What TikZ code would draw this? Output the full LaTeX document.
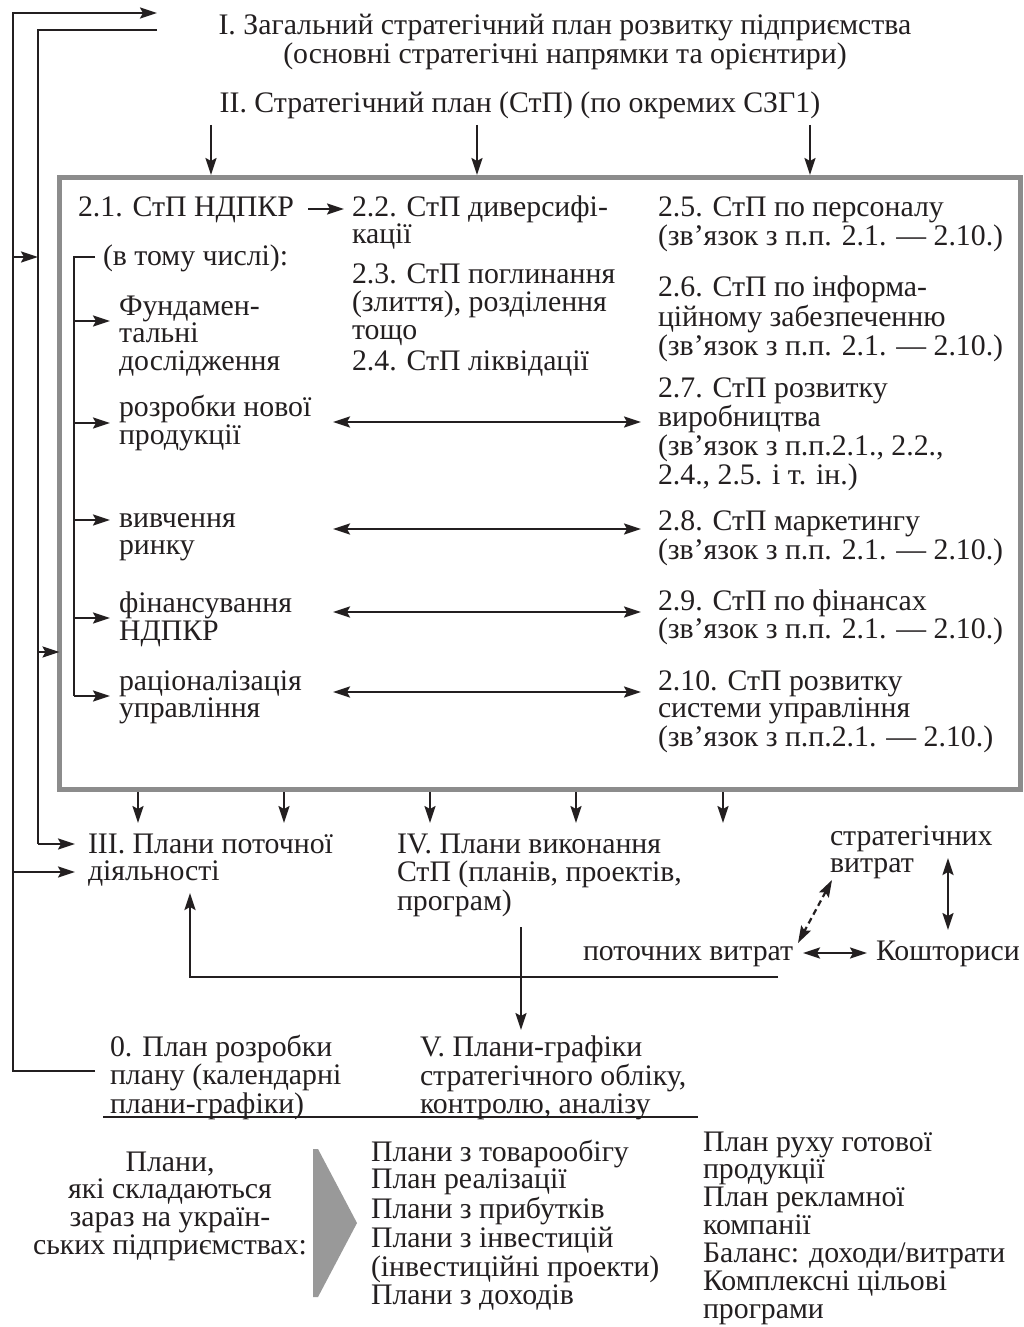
\documentclass[tikz,border=0pt]{standalone}
\usepackage{fontspec}
\setmainfont{Liberation Serif}
\usetikzlibrary{arrows.meta,calc}
\definecolor{ink}{HTML}{231F20}
\definecolor{framegray}{HTML}{8C8C8C}
\definecolor{wedgegray}{HTML}{999999}
\newcommand{\mlines}[1]{\begin{tabular}[t]{@{}l@{}}#1\end{tabular}}
\newcommand{\mcent}[1]{\begin{tabular}[t]{@{}c@{}}#1\end{tabular}}
\begin{document}
\begin{tikzpicture}[x=1pt,y=-1pt,
  >={Stealth[length=17pt,width=11pt,inset=3pt]},
  txt/.style={font=\fontsize{29.8}{27.5}\selectfont, inner sep=0pt, outer sep=0pt, anchor=base west, text=ink},
  ln/.style={draw=ink, line width=2.2pt},
  arr/.style={ln, ->},
  darr/.style={ln, <->},
  frame/.style={draw=framegray, line width=5pt, inner sep=0pt, outer sep=0pt, anchor=north west}
]
\fill[white] (0,0) rectangle (1024,1327);
\useasboundingbox (0,0) rectangle (1024,1327);

% titles
\node[txt, anchor=base] (t1) at (565,35) {\mcent{I. Загальний стратегічний план розвитку підприємства\\(основні стратегічні напрямки та орієнтири)}};
\node[txt, anchor=base] (t2) at (520,113) {II. Стратегічний план (СтП) (по окремих СЗГ1)};

% frame
\node[frame, minimum width=961pt, minimum height=612pt] (box) at (59.5,177.5) {};

% inside frame, left and middle
\node[txt] (n21) at (78,216.7) {2.1. СтП НДПКР};
\node[txt] (n22) at (352,216) {\mlines{2.2. СтП диверсифі-\\кації}};
\node[txt] (n23) at (352,283) {\mlines{2.3. СтП поглинання\\(злиття), розділення\\тощо}};
\node[txt] (n24) at (352,370) {2.4. СтП ліквідації};
\node[txt] (incl) at (103,265) {(в тому числі):};
\node[txt] (f1) at (119,315) {\mlines{Фундамен-\\тальні\\дослідження}};
\node[txt] (f2) at (119,416.7) {\mlines{розробки нової\\продукції}};
\node[txt] (f3) at (119,527) {\mlines{вивчення\\ринку}};
\node[txt] (f4) at (119,612.7) {\mlines{фінансування\\НДПКР}};
\node[txt] (f5) at (119,690) {\mlines{раціоналізація\\управління}};

% right column
\node[txt] (r25) at (658,216.7) {\mlines{2.5. СтП по персоналу\\(зв’язок з п.п. 2.1. — 2.10.)}};
\node[txt] (r26) at (658,296.7) {\mlines{2.6. СтП по інформа-\\ційному забезпеченню\\(зв’язок з п.п. 2.1. — 2.10.)}};
\node[txt] (r27) at (658,397) {\mlines{2.7. СтП розвитку\\виробництва\\(зв’язок з п.п.2.1., 2.2.,\\2.4., 2.5. і т. ін.)}};
\node[txt] (r28) at (658,530.7) {\mlines{2.8. СтП маркетингу\\(зв’язок з п.п. 2.1. — 2.10.)}};
\node[txt] (r29) at (658,610) {\mlines{2.9. СтП по фінансах\\(зв’язок з п.п. 2.1. — 2.10.)}};
\node[txt] (r210) at (658,690) {\mlines{2.10. СтП розвитку\\системи управління\\(зв’язок з п.п.2.1. — 2.10.)}};

% below frame
\node[txt] (p3) at (88,853) {\mlines{III. Плани поточної\\діяльності}};
\node[txt] (p4) at (397,853) {\mlines{IV. Плани виконання\\СтП (планів, проектів,\\програм)}};
\node[txt] (sv) at (830,845) {\mlines{стратегічних\\витрат}};
\node[txt] (pv) at (583,960) {поточних витрат};
\node[txt] (ko) at (876,960) {Кошториси};
\node[txt] (p0) at (110,1056) {\mlines{0. План розробки\\плану (календарні\\плани-графіки)}};
\node[txt] (p5) at (420,1056) {\mlines{V. Плани-графіки\\стратегічного обліку,\\контролю, аналізу}};

% bottom section
\node[txt, anchor=base] (pl) at (170,1171) {\mcent{Плани,\\які складаються\\зараз на україн-\\ських підприємствах:}};
\fill[wedgegray] (313,1149) -- (318,1149) -- (357,1223) -- (318,1297) -- (313,1297) -- cycle;
\node[txt] (l1) at (371,1161) {\mlines{Плани з товарообігу\\План реалізації\\Плани з прибутків\\Плани з інвестицій\\(інвестиційні проекти)\\Плани з доходів}};
\node[txt] (l2) at (703,1151) {\mlines{План руху готової\\продукції\\План рекламної\\компанії\\Баланс: доходи/витрати\\Комплексні цільові\\програми}};

% coordinates for connectors
\coordinate (oTop) at (157,13);
\coordinate (iTop) at (157,30);
\coordinate (oBot) at (95,1071);

% outer feedback lines
\draw[arr] (oBot) -- (13,1071) -- (13,13) -- (oTop);
\draw[ln] (iTop) -- (38,30) -- (38,844);
\draw[arr] (38,844) -- (75,844);
\draw[arr] (13,872) -- (75,872);
\draw[arr] (13,257) -- (38,257);
\draw[arr] (38,652) -- (box.west |- 38,652);

% II -> frame
\foreach \x in {211,477,810} \draw[arr] (\x,125) -- (\x,175);

% inside frame
\draw[arr] (308,209) -- (344,209);
\draw[ln] (95,257) -- (74,257) -- (74,696);
\foreach \y in {321,423,520,618,696} \draw[arr] (74,\y) -- (110,\y);
\foreach \y in {422,529,612,692} \draw[darr] (333,\y) -- (641,\y);

% frame -> below
\foreach \x in {138,284,430,576,723} \draw[arr] (\x,792) -- (\x,823);

% costs
\draw[darr] (948,858) -- (948,930);
\draw[ln, <->, dash pattern=on 6pt off 4pt] (832,880) -- (798,943);
\draw[darr] (803,953) -- (867,953);
\draw[arr] (778,977) -- (190,977) -- (190,893);
\draw[arr] (521,927) -- (521,1030);

% underline
\draw[ln] (103,1117) -- (698,1117);
\end{tikzpicture}
\end{document}
